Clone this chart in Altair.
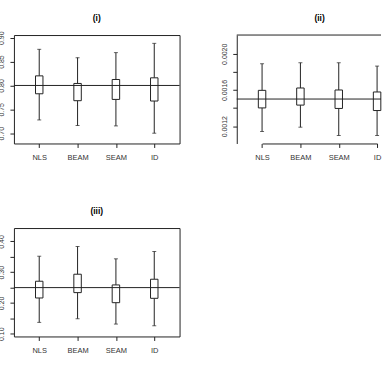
import altair as alt
import pandas as pd

methods = ["NLS", "BEAM", "SEAM", "ID"]

# Panel (i)
i_lower = [0.7278, 0.7160, 0.7153, 0.7000]
i_q1 = [0.7826, 0.7681, 0.7708, 0.7674]
i_q3 = [0.8201, 0.8042, 0.8125, 0.8160]
i_upper = [0.8757, 0.8583, 0.8688, 0.8882]
i_ref = 0.80
i_domain = [0.6785, 0.9056]
i_ticks = [0.70, 0.75, 0.80, 0.85, 0.90]
i_labels = [0.70, 0.75, 0.80, 0.85, 0.90]

# Panel (ii)
ii_lower = [0.001141, 0.001189, 0.001097, 0.001097]
ii_q1 = [0.001402, 0.001433, 0.001396, 0.001373]
ii_q3 = [0.001596, 0.001622, 0.001600, 0.001578]
ii_upper = [0.001890, 0.001901, 0.001901, 0.001864]
ii_ref = 0.0015
ii_domain = [0.001009, 0.002207]
ii_ticks = [0.0012, 0.0014, 0.0016, 0.0018, 0.0020]
ii_labels = [0.0012, 0.0016, 0.0020]

# Panel (iii)
iii_lower = [0.1370, 0.1489, 0.1315, 0.1260]
iii_q1 = [0.2163, 0.2337, 0.2010, 0.2152]
iii_q3 = [0.2707, 0.2935, 0.2587, 0.2772]
iii_upper = [0.3520, 0.3837, 0.3435, 0.3674]
iii_ref = 0.25
iii_domain = [0.0912, 0.4436]
iii_ticks = [0.10, 0.15, 0.20, 0.25, 0.30, 0.35, 0.40]
iii_labels = [0.10, 0.20, 0.30, 0.40]

titles = ["(i)", "(ii)", "(iii)"]

FONT = "Liberation Sans"
INK = "#222222"
W, H = 166.5, 109
PAD = 0.66
STEP = W / (len(methods) - 1 + 2 * PAD)
W2 = 145  # panel (ii) runs off the right edge of the page in the original


def panel(lo, q1, q3, hi, ref, dom, ticks, shown, fmt, title, width=W,
          title_offset=5.5, title_dx=0, framed=True):
    df = pd.DataFrame({"method": methods, "lo": lo, "q1": q1, "q3": q3, "hi": hi})
    if width == W:
        xscale = alt.Scale(type="point", padding=PAD)
    else:
        xscale = alt.Scale(type="point", padding=0,
                           range=[PAD * STEP, PAD * STEP + (len(methods) - 1) * STEP])
    xenc = alt.X(
        "method:N", sort=methods, scale=xscale,
        axis=alt.Axis(title=None, labelAngle=0, tickSize=4, labelPadding=6,
                      domain=not framed, domainColor=INK, grid=False,
                      labelFontSize=7.5),
    )
    yscale = alt.Scale(domain=dom, nice=False, zero=False)
    expr = "indexof(" + str(list(shown)) + ", datum.value) >= 0 ? datum.label : ''"
    yaxis = alt.Axis(title=None, values=ticks, format=fmt, labelExpr=expr,
                     labelAngle=270, labelAlign="center", labelBaseline="bottom",
                     tickSize=4, labelPadding=5, domain=not framed, domainColor=INK,
                     grid=False, labelFontSize=7)
    base = alt.Chart(df).encode(x=xenc)
    w_lo = base.mark_rule(color=INK, strokeWidth=1).encode(
        y=alt.Y("lo:Q", scale=yscale, axis=yaxis), y2="q1:Q")
    w_hi = base.mark_rule(color=INK, strokeWidth=1).encode(
        y=alt.Y("q3:Q", scale=yscale, axis=yaxis), y2="hi:Q")
    cap_lo = base.mark_tick(color=INK, size=4, thickness=1).encode(
        y=alt.Y("lo:Q", scale=yscale, axis=yaxis))
    cap_hi = base.mark_tick(color=INK, size=4, thickness=1).encode(
        y=alt.Y("hi:Q", scale=yscale, axis=yaxis))
    box = base.mark_bar(size=7.5, fill="white", stroke=INK, strokeWidth=1).encode(
        y=alt.Y("q1:Q", scale=yscale, axis=yaxis), y2="q3:Q")
    refline = alt.Chart(pd.DataFrame({"ref": [ref]})).mark_rule(
        color=INK, strokeWidth=1).encode(y=alt.Y("ref:Q", scale=yscale, axis=yaxis))
    layers = [w_lo, w_hi, cap_lo, cap_hi, box, refline]
    if not framed:
        top = alt.Chart(pd.DataFrame({"top": [dom[1]]})).mark_rule(
            color=INK, strokeWidth=1).encode(y=alt.Y("top:Q", scale=yscale, axis=yaxis))
        layers.append(top)
    ch = alt.layer(*layers).properties(
        width=width, height=H,
        title=alt.TitleParams(text=title, font=FONT, fontSize=8.5, fontWeight="bold",
                              anchor="middle", frame="group", baseline="alphabetic",
                              offset=title_offset, dx=title_dx, color="black"),
    )
    if not framed:
        ch = ch.properties(view=alt.ViewBackground(stroke=None))
    return ch


p1 = panel(i_lower, i_q1, i_q3, i_upper, i_ref, i_domain, i_ticks, i_labels, ".2f",
           titles[0], title_offset=1.4)
p2 = panel(ii_lower, ii_q1, ii_q3, ii_upper, ii_ref, ii_domain, ii_ticks, ii_labels, ".4f",
           titles[1], width=W2, title_dx=(W - W2) / 2, framed=False)
p3 = panel(iii_lower, iii_q1, iii_q3, iii_upper, iii_ref, iii_domain, iii_ticks, iii_labels,
           ".2f", titles[2])

chart = alt.concat(
    p1, p2, p3, columns=2,
    spacing=alt.RowColnumber(row=85, column=57),
    bounds="flush",
).properties(
    padding={"left": -3, "top": 12.3, "right": 0, "bottom": 0},
    background="white",
).configure_view(
    stroke=INK, strokeWidth=1, fill="white"
).configure_axis(
    labelFont=FONT, labelColor="#333333", tickColor=INK, tickWidth=1,
)

chart.save("out.html", embed_options={"renderer": "svg", "actions": False})
